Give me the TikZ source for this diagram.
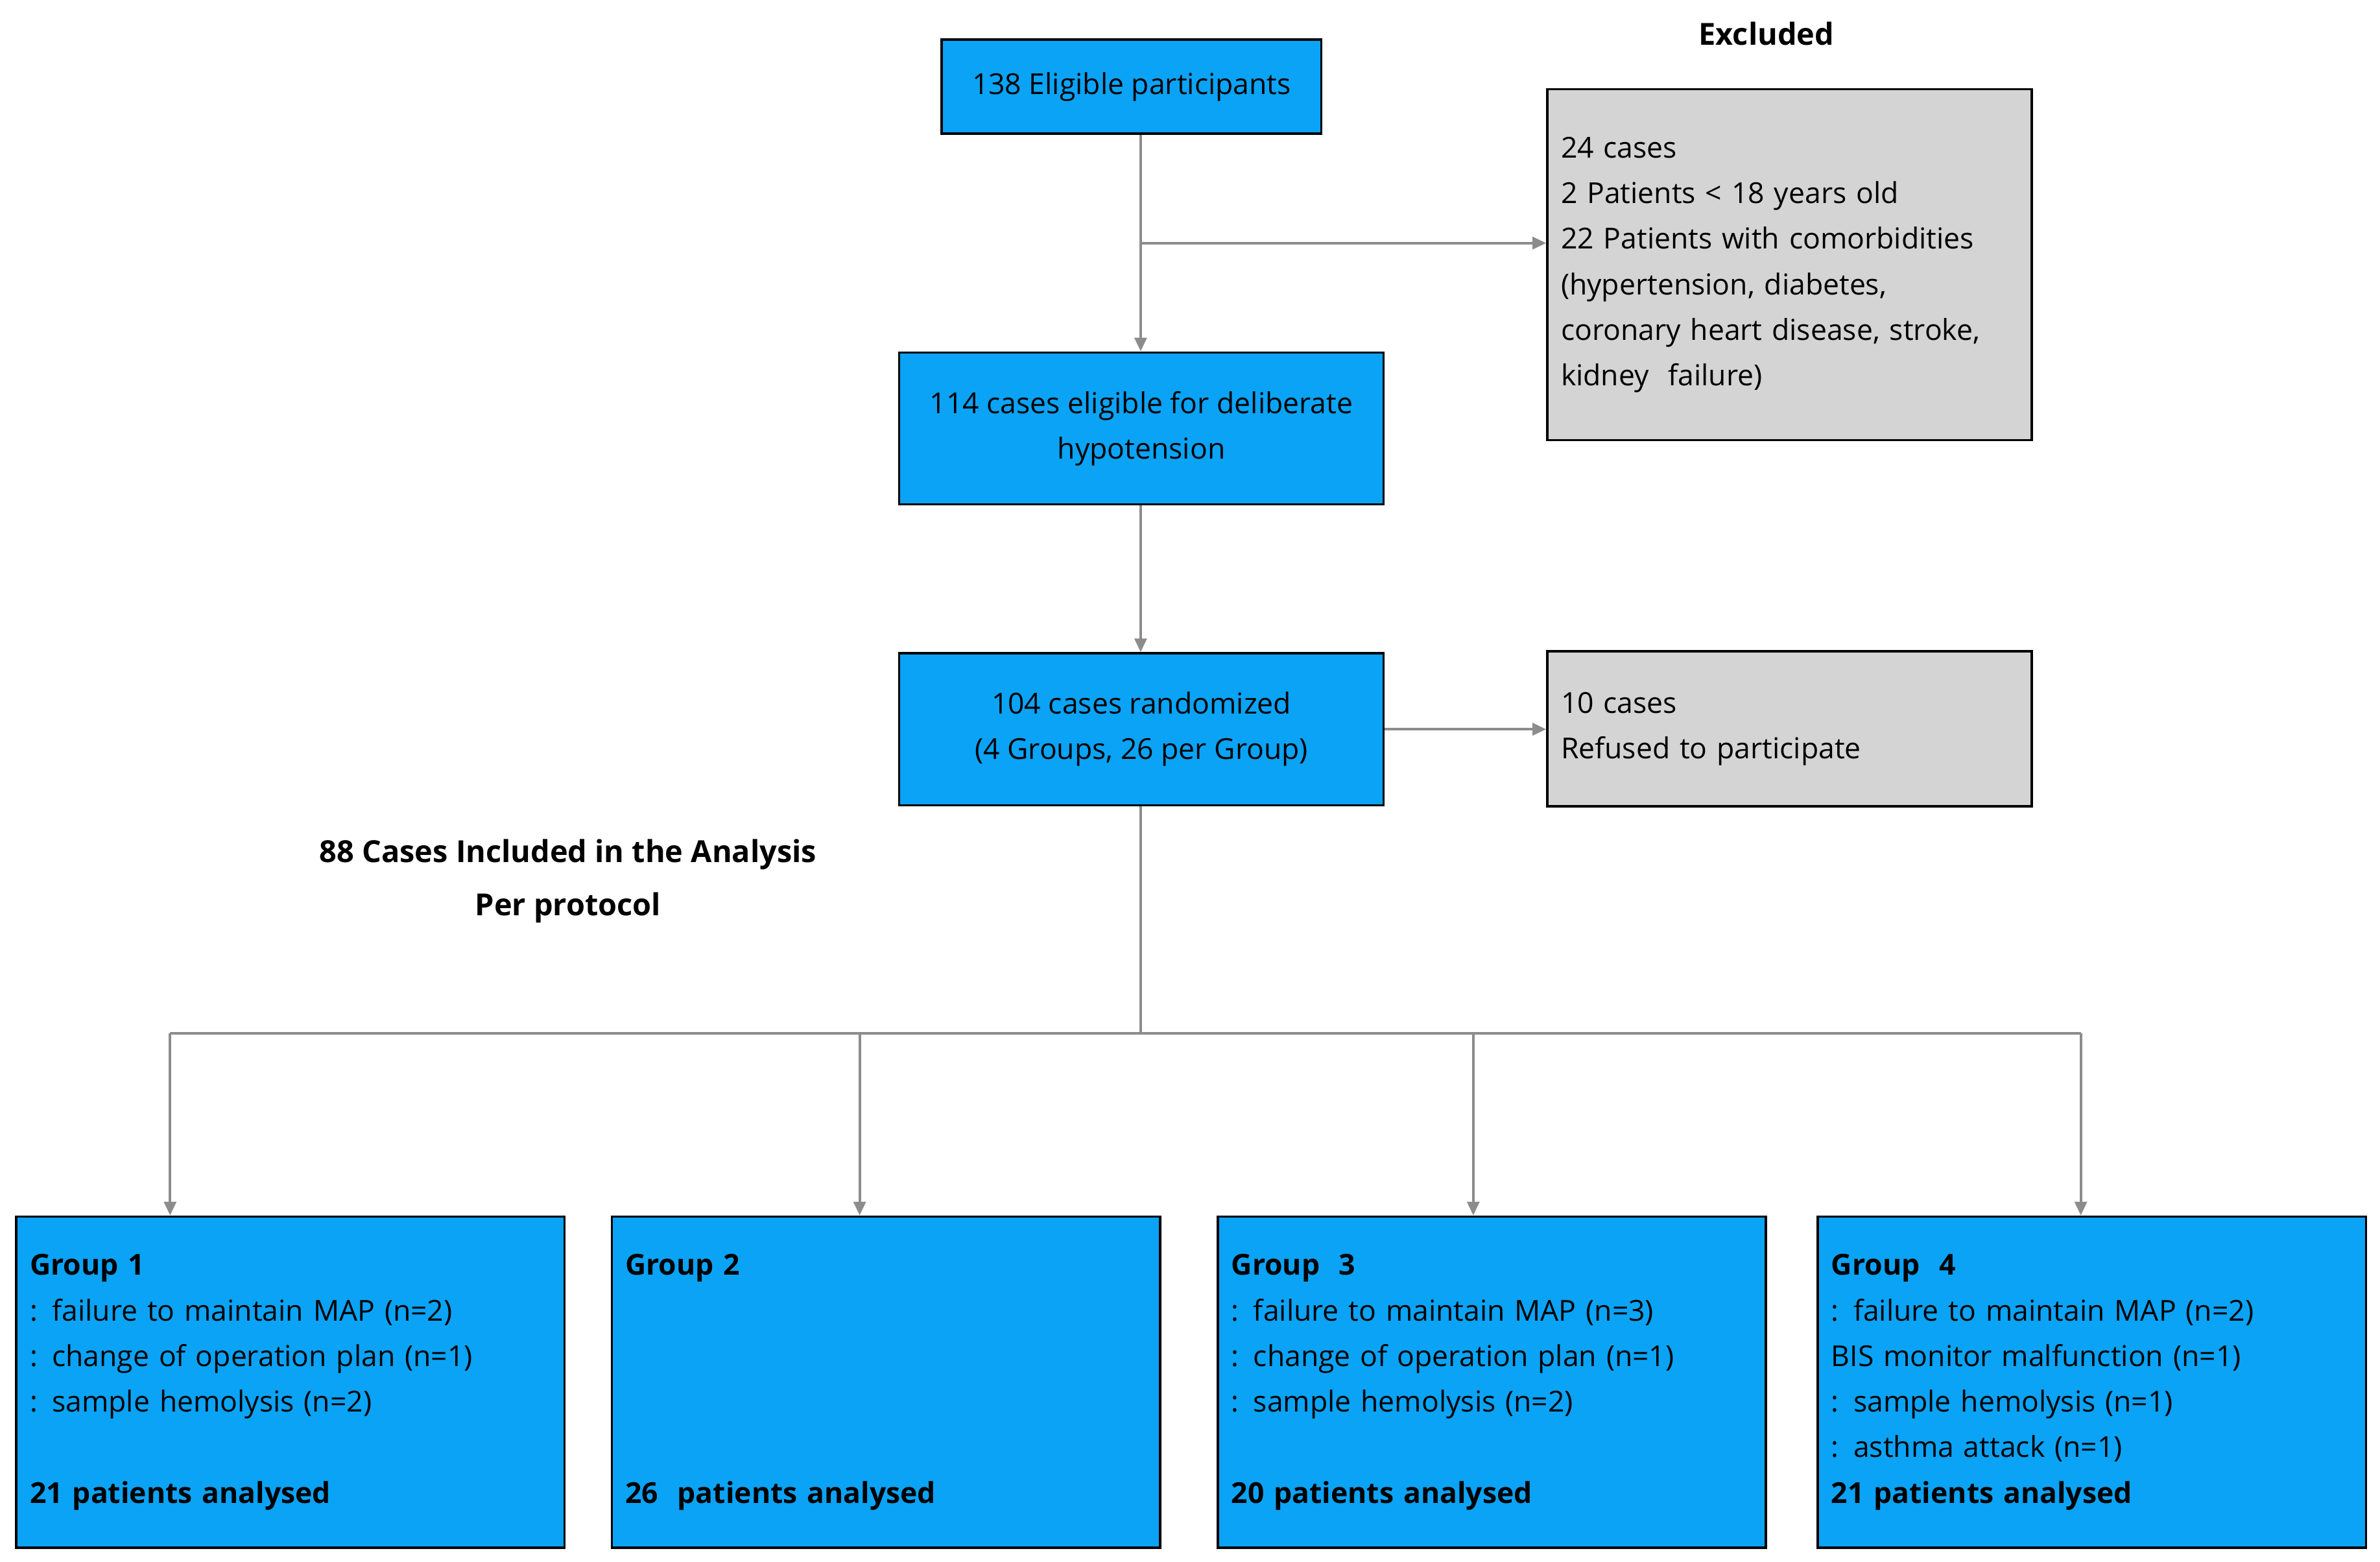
\documentclass[tikz,border=0pt]{standalone}
\usepackage{fontspec}
\setmainfont{Open Sans}
\usetikzlibrary{arrows.meta}
\definecolor{boxblue}{HTML}{0BA3F5}
\definecolor{boxgray}{HTML}{D4D4D4}
\definecolor{linegray}{HTML}{8C8C8C}
\begin{document}
\begin{tikzpicture}[x=1pt,y=-1pt,
  every node/.style={font=\fontsize{19}{30}\selectfont},
  blue/.style={draw=black,line width=1.5pt,fill=boxblue,align=center,inner sep=0pt},
  gray/.style={draw=black,line width=1.5pt,fill=boxgray,align=left,inner sep=9pt,anchor=north west},
  grp/.style={draw=black,line width=1.5pt,fill=boxblue,align=left,inner sep=9pt,anchor=north west,minimum width=361pt,minimum height=218pt,text width=343pt},
  conn/.style={draw=linegray,line width=1.8pt},
  arr/.style={conn,-{Triangle[length=9pt,width=8pt]}},
  hd/.style={font=\fontsize{20}{35}\selectfont\bfseries,align=center}]
\useasboundingbox[fill=white] (0,0) rectangle (1567,1028);
\node[blue,minimum width=250pt,minimum height=62pt] (top) at (745,57) {138 Eligible participants};
\node[hd] (exh) at (1163,22) {Excluded};
\node[gray,minimum width=319pt,minimum height=231pt,text width=301pt] (exc) at (1018,58) {24 cases\\2 Patients < 18 years old\\22 Patients with comorbidities\\(hypertension, diabetes,\\coronary heart disease, stroke,\\kidney\ \ failure)};
\node[blue,minimum width=319pt,minimum height=100pt] (b114) at (751.5,282) {114 cases eligible for deliberate\\hypotension};
\node[blue,minimum width=319pt,minimum height=100pt] (b104) at (751.5,480) {104 cases randomized\\(4 Groups, 26 per Group)};
\node[gray,minimum width=319pt,minimum height=102pt,text width=301pt] (ref) at (1018,428) {10 cases\\Refused to participate};
\node[hd] (pp) at (374,580) {88 Cases Included in the Analysis\\Per protocol};
\node[grp] (g1) at (10,800) {\textbf{Group 1}\\: failure to maintain MAP (n=2)\\: change of operation plan (n=1)\\: sample hemolysis (n=2)\\\mbox{}\\\textbf{21 patients analysed}};
\node[grp] (g2) at (402,800) {\textbf{Group 2}\\\mbox{}\\\mbox{}\\\mbox{}\\\mbox{}\\\textbf{26\ \ patients analysed}};
\node[grp] (g3) at (801,800) {\textbf{Group\ \ 3}\\: failure to maintain MAP (n=3)\\: change of operation plan (n=1)\\: sample hemolysis (n=2)\\\mbox{}\\\textbf{20 patients analysed}};
\node[grp] (g4) at (1196,800) {\textbf{Group\ \ 4}\\: failure to maintain MAP (n=2)\\BIS monitor malfunction (n=1)\\: sample hemolysis (n=1)\\: asthma attack (n=1)\\\textbf{21 patients analysed}};
\coordinate (j1) at (751,160);
\coordinate (j2) at (751,680);
\draw[arr] (top.south -| j1) -- (b114.north -| j1);
\draw[arr] (j1) -- (j1 -| exc.west);
\draw[arr] (b114.south -| j1) -- (b104.north -| j1);
\draw[arr] (b104.east) -- (b104.east -| ref.west);
\draw[conn] (b104.south -| j2) -- (j2);
\draw[conn] (112,680) -- (1370,680);
\draw[arr] (112,680) -- (112,800);
\draw[arr] (566,680) -- (566,800);
\draw[arr] (970,680) -- (970,800);
\draw[arr] (1370,680) -- (1370,800);
\end{tikzpicture}
\end{document}
